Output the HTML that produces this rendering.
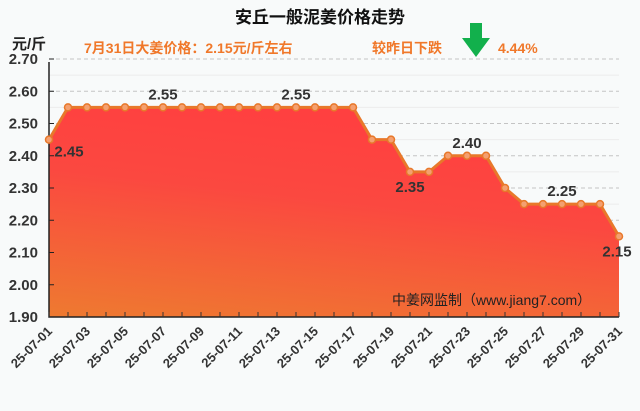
<!DOCTYPE html>
<html><head><meta charset="utf-8"><style>
html,body{margin:0;padding:0;background:#f8fafa;}
svg{display:block;font-family:"Liberation Sans","Noto Sans CJK SC",sans-serif;}
</style></head><body>
<svg id="chart" width="640" height="411" viewBox="0 0 640 411">
<defs>
<linearGradient id="fillg" x1="0.3" y1="0" x2="0" y2="1">
<stop offset="0" stop-color="#ff4040"/>
<stop offset="0.35" stop-color="#fb4840"/>
<stop offset="1" stop-color="#ee7a30"/>
</linearGradient>
</defs>
<rect width="640" height="411" fill="#f8fafa"/>
<text x="320" y="23" text-anchor="middle" font-size="17" font-weight="bold" fill="#111">安丘一般泥姜价格走势</text>
<text x="12" y="49" font-size="15" font-weight="bold" fill="#222">元/斤</text>
<text x="84" y="53" font-size="14" font-weight="bold" fill="#f0782a">7月31日大姜价格：2.15元/斤左右</text>
<text x="372" y="53" font-size="14" font-weight="bold" fill="#f0782a">较昨日下跌</text>
<polygon points="470,23 482,23 482,38 490,38 476,57 462,38 470,38" fill="#12b04c"/>
<text x="498" y="53" font-size="14" font-weight="bold" fill="#f0782a">4.44%</text>
<g id="grid"></g>
<path id="area" fill="url(#fillg)"/>
<path id="line" fill="none" stroke="#e8782a" stroke-width="3" stroke-linejoin="round"/>
<g id="axes"></g>
<g id="marks"></g>
<text x="392" y="305" font-size="14" fill="#222">中姜网监制（www.jiang7.com）</text>
</svg>
<script>
const dates = ["25-07-01","25-07-02","25-07-03","25-07-04","25-07-05","25-07-06","25-07-07","25-07-08","25-07-09","25-07-10","25-07-11","25-07-12","25-07-13","25-07-14","25-07-15","25-07-16","25-07-17","25-07-18","25-07-19","25-07-20","25-07-21","25-07-22","25-07-23","25-07-24","25-07-25","25-07-26","25-07-27","25-07-28","25-07-29","25-07-30","25-07-31"];
const prices = [2.45,2.55,2.55,2.55,2.55,2.55,2.55,2.55,2.55,2.55,2.55,2.55,2.55,2.55,2.55,2.55,2.55,2.45,2.45,2.35,2.35,2.40,2.40,2.40,2.30,2.25,2.25,2.25,2.25,2.25,2.15];
const yTicks = [1.90,2.00,2.10,2.20,2.30,2.40,2.50,2.60,2.70];
const labelIdx = [0,6,13,19,22,27,30];
const labelPos = ["right","above","above","below","above","above","below"];
const NS="http://www.w3.org/2000/svg";
const X0=49,X1=619,YB=317,YT=59,vMin=1.9,vMax=2.7;
const xs=i=>X0+(X1-X0)*i/(dates.length-1);
const ys=v=>YB-(v-vMin)/(vMax-vMin)*(YB-YT);
function mk(tag,attrs,parent){const e=document.createElementNS(NS,tag);for(const k in attrs)e.setAttribute(k,attrs[k]);parent.appendChild(e);return e;}
const grid=document.getElementById('grid'),axes=document.getElementById('axes'),marks=document.getElementById('marks');
yTicks.forEach((t,i)=>{
  const y=ys(t);
  if(i>0){const g=mk('line',{x1:X0,x2:X1,y1:y,y2:y,stroke:'#c4c4c4','stroke-dasharray':'4,3'},grid);
  
  
  const h=mk('line',{x1:X0,x2:X1,y1:y+(ys(t-0.05)-y),y2:y+(ys(t-0.05)-y),stroke:'#ececec'},grid);
  
  }
  const tk=mk('line',{x1:X0,x2:X0+5,y1:y,y2:y,stroke:'#222'},axes);
  
  
  const tx=mk('text',{x:38,y:y+5,'text-anchor':'end','font-size':15,'font-weight':'bold',fill:'#333'},axes);
  tx.textContent=t.toFixed(2);
  
  
});
let d='',a='';
prices.forEach((p,i)=>{d+=(i?'L':'M')+xs(i)+','+ys(p);});
a=d+'L'+xs(prices.length-1)+','+YB+'L'+xs(0)+','+YB+'Z';
document.getElementById('line').setAttribute('d',d);
document.getElementById('area').setAttribute('d',a);
const ax=mk('path',{d:`M${X0},${YT+3}L${X0},${YB}L${X1},${YB}`,fill:'none',stroke:'#222','stroke-width':1.5},axes);


dates.forEach((dt,i)=>{
  const x=xs(i);
  const tk=mk('line',{x1:x,x2:x,y1:YB,y2:YB-5,stroke:'#333'},axes);
  
  
  if(i%2===0){
    const t=mk('text',{x:x+4,y:YB+15,'text-anchor':'end','font-size':13,'font-weight':'bold',fill:'#333',transform:`rotate(-45 ${x+4} ${YB+15})`},axes);
    t.textContent=dt;
    
    
  }
  const c=mk('circle',{cx:x,cy:ys(prices[i]),r:3.5,fill:'#f4a070',stroke:'#e8782a','stroke-width':1.5},marks);
  
  
});
labelIdx.forEach((i,k)=>{
  const pos=labelPos[k];let x=xs(i),y=ys(prices[i]);
  if(pos==='right'){x+=20;y+=17;}else if(pos==='above'){y-=8;}else{y+=20;}
  if(i===prices.length-1)x-=2;
  const t=mk('text',{x:x,y:y,'text-anchor':'middle','font-size':15,'font-weight':'bold',fill:'#333'},marks);
  t.textContent=prices[i].toFixed(2);
  
  
});
</script>
</body></html>
